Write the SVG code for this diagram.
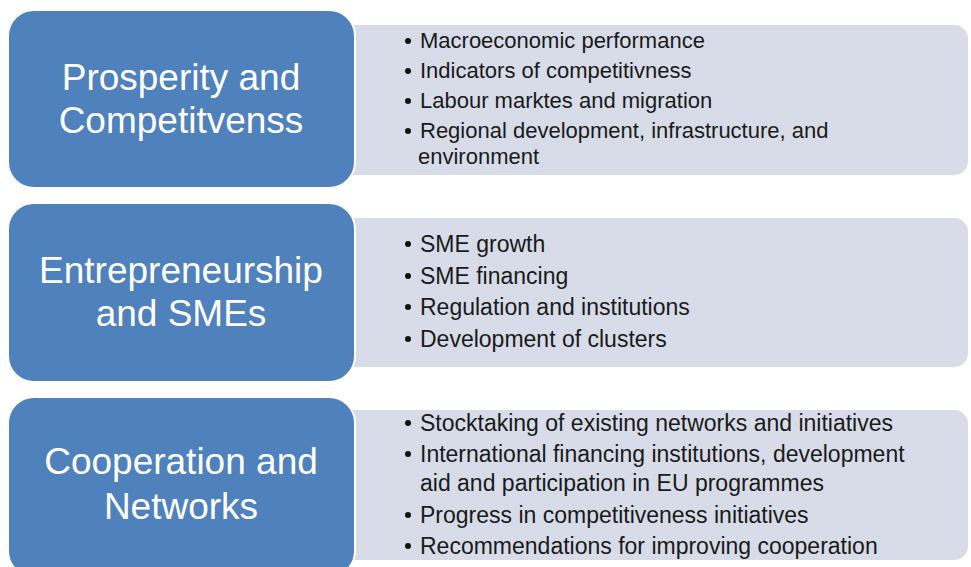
<svg xmlns="http://www.w3.org/2000/svg" width="971" height="567" viewBox="0 0 971 567">
  <style>
    .box { fill: #4f81bd; stroke: #ffffff; stroke-width: 2; }
    .panel { fill: #d7dce8; }
    .title { font-family: "Liberation Sans", Arial, sans-serif; font-size: 37px; fill: #ffffff; text-anchor: middle; }
    .item { font-family: "Liberation Sans", Arial, sans-serif; font-size: 22px; fill: #1a1a1a; }
    .item2 { font-family: "Liberation Sans", Arial, sans-serif; font-size: 23px; fill: #1a1a1a; }
    .bullet { fill: #111111; }
  </style>
  <rect width="971" height="567" fill="#ffffff"/>
  <g id="connectors"/>
  <g id="node-prosperity">
    <rect class="panel" x="340" y="25" width="628" height="150" rx="14"/>
    <rect class="box" x="8" y="10" width="347" height="178" rx="26"/>
    <text class="title" x="181" y="90">Prosperity and</text>
    <text class="title" x="181" y="133">Competitvenss</text>
    <circle class="bullet" cx="408" cy="41" r="3"/>
    <text class="item" x="420" y="48">Macroeconomic performance</text>
    <circle class="bullet" cx="408" cy="71" r="3"/>
    <text class="item" x="420" y="78">Indicators of competitivness</text>
    <circle class="bullet" cx="408" cy="101" r="3"/>
    <text class="item" x="420" y="108">Labour marktes and migration</text>
    <circle class="bullet" cx="408" cy="131" r="3"/>
    <text class="item" x="420" y="138">Regional development, infrastructure, and</text>
    <text class="item" x="418" y="164">environment</text>
  </g>
  <g id="node-entrepreneurship">
    <rect class="panel" x="340" y="218" width="628" height="149" rx="14"/>
    <rect class="box" x="8" y="203" width="347" height="179" rx="26"/>
    <text class="title" x="181" y="283">Entrepreneurship</text>
    <text class="title" x="181" y="326">and SMEs</text>
    <circle class="bullet" cx="408" cy="244" r="3"/>
    <text class="item2" x="420" y="252">SME growth</text>
    <circle class="bullet" cx="408" cy="276" r="3"/>
    <text class="item2" x="420" y="284">SME financing</text>
    <circle class="bullet" cx="408" cy="307" r="3"/>
    <text class="item2" x="420" y="315">Regulation and institutions</text>
    <circle class="bullet" cx="408" cy="339" r="3"/>
    <text class="item2" x="420" y="347">Development of clusters</text>
  </g>
  <g id="node-cooperation">
    <rect class="panel" x="340" y="410" width="628" height="150" rx="14"/>
    <rect class="box" x="8" y="397" width="347" height="180" rx="26"/>
    <text class="title" x="181" y="474">Cooperation and</text>
    <text class="title" x="181" y="519">Networks</text>
    <circle class="bullet" cx="408" cy="423" r="3"/>
    <text class="item2" x="420" y="431">Stocktaking of existing networks and initiatives</text>
    <circle class="bullet" cx="408" cy="454" r="3"/>
    <text class="item2" x="420" y="462">International financing institutions, development</text>
    <text class="item2" x="420" y="491">aid and participation in EU programmes</text>
    <circle class="bullet" cx="408" cy="515" r="3"/>
    <text class="item2" x="420" y="523">Progress in competitiveness initiatives</text>
    <circle class="bullet" cx="408" cy="546" r="3"/>
    <text class="item2" x="420" y="554">Recommendations for improving cooperation</text>
  </g>
</svg>
